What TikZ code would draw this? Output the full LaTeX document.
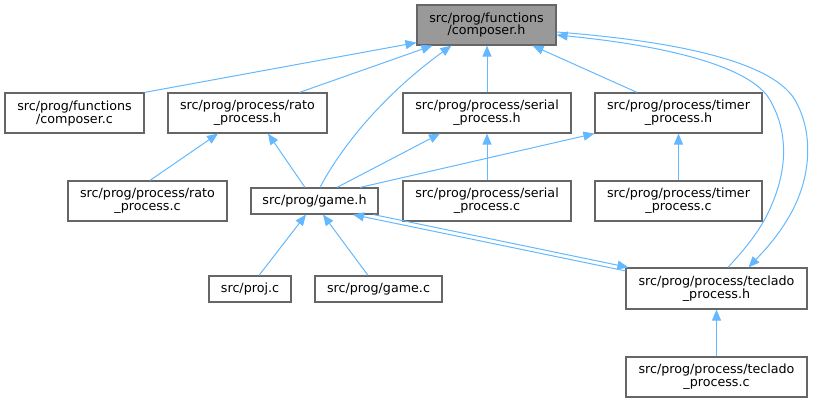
\documentclass[tikz,border=0pt]{standalone}
\usepackage{fontspec}
\setmainfont{DejaVu Sans}
\usetikzlibrary{arrows.meta}
\definecolor{edgeblue}{HTML}{63B8FF}
\definecolor{nodeborder}{HTML}{666666}
\definecolor{nodefill}{HTML}{999999}
\begin{document}
\begin{tikzpicture}[x=1pt,y=-1pt,
  box/.style={draw=nodeborder,line width=1.2pt,fill=white,inner sep=0pt,align=center,
    font=\fontsize{12.7}{13}\selectfont},
  edge/.style={draw=edgeblue,line width=1pt,-{Triangle[length=11pt,width=9pt]}}]
\useasboundingbox (0,0) rectangle (814,403);
\node[box,fill=nodefill,minimum width=139pt,minimum height=40pt] (ch) at (486.5,25) {src/prog/functions\\/composer.h};
\node[box,minimum width=139pt,minimum height=40pt] (cc) at (74.5,113) {src/prog/functions\\/composer.c};
\node[box,minimum width=159pt,minimum height=40pt] (rh) at (247.5,113) {src/prog/process/rato\\\_process.h};
\node[box,minimum width=168pt,minimum height=40pt] (sh) at (487,113) {src/prog/process/serial\\\_process.h};
\node[box,minimum width=167pt,minimum height=40pt] (th) at (678.5,113) {src/prog/process/timer\\\_process.h};
\node[box,minimum width=159pt,minimum height=40pt] (rc) at (147.5,201) {src/prog/process/rato\\\_process.c};
\node[box,minimum width=127pt,minimum height=26pt] (gh) at (314.5,201) {src/prog/game.h};
\node[box,minimum width=168pt,minimum height=40pt] (sc) at (487,201) {src/prog/process/serial\\\_process.c};
\node[box,minimum width=167pt,minimum height=40pt] (tc) at (678.5,201) {src/prog/process/timer\\\_process.c};
\node[box,minimum width=82pt,minimum height=26pt] (pc) at (250,289) {src/proj.c};
\node[box,minimum width=127pt,minimum height=26pt] (gc) at (378.5,289) {src/prog/game.c};
\node[box,minimum width=181pt,minimum height=41pt] (kh) at (716.5,288.5) {src/prog/process/teclado\\\_process.h};
\node[box,minimum width=181pt,minimum height=40pt] (kc) at (716.5,377) {src/prog/process/teclado\\\_process.c};
% edges into composer.h
\draw[edge] (cc.north east) -- ([yshift=3pt]ch.south west);
\draw[edge] ([xshift=52pt]rh.north) -- ([xshift=16pt]ch.south west);
\draw[edge] ([xshift=5.5pt]gh.north) .. controls (345,140) and (390,90) .. ([xshift=35pt]ch.south west);
\draw[edge] (sh.north) -- (sh.north |- ch.south);
\draw[edge] ([xshift=-41.5pt]th.north) -- ([xshift=-24pt]ch.south east);
\draw[edge] ([xshift=11.5pt]kh.north) .. controls (742,252) and (757,235) .. (767,215)
  .. controls (787,175) and (790,135) .. (770,100)
  .. controls (750,65) and (660,45) .. ([yshift=-10pt]ch.east);
\draw[edge] ([yshift=-7pt]ch.east) .. controls (660,40) and (770,58) .. (795,100)
  .. controls (815,135) and (810,180) .. (790,215)
  .. controls (777,238) and (762,253) .. ([xshift=32pt]kh.north);
% edges into rato_process.h
\draw[edge] ([xshift=2.5pt]rc.north) -- ([xshift=-29.5pt]rh.south);
\draw[edge] ([xshift=-9.5pt]gh.north) -- ([xshift=20.5pt]rh.south);
% serial / timer
\draw[edge] ([xshift=22.5pt]gh.north) -- ([xshift=-47pt]sh.south);
\draw[edge] ([xshift=45.5pt]gh.north) -- (th.south west);
\draw[edge] (sc.north) -- (sh.south);
\draw[edge] (tc.north) -- (th.south);
% into game.h
\draw[edge] ([xshift=9pt]pc.north) -- ([xshift=-8.5pt]gh.south);
\draw[edge] ([xshift=-10.5pt]gc.north) -- ([xshift=8.5pt]gh.south);
\draw[edge] ([xshift=-5pt]gh.south east) -- ([xshift=3pt]kh.north west);
\draw[edge] ([yshift=-3.5pt]kh.north west) -- ([xshift=38.5pt]gh.south);
% teclado
\draw[edge] (kc.north) -- (kh.south);
\end{tikzpicture}
\end{document}
